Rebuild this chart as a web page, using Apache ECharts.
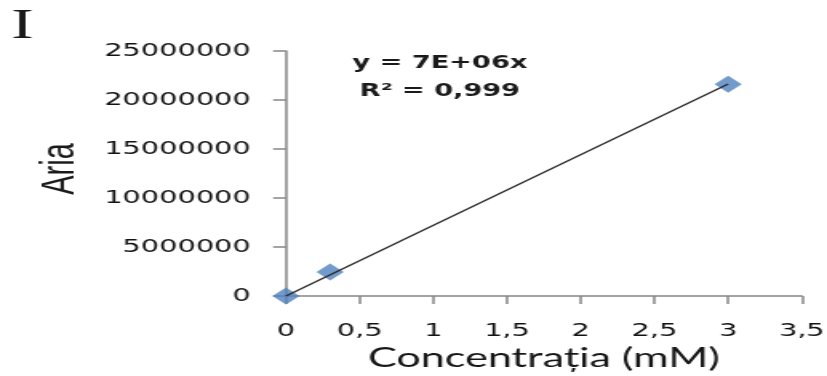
<!DOCTYPE html>
<html>
<head>
<meta charset="utf-8">
<script src="https://cdn.jsdelivr.net/npm/echarts@6/dist/echarts.min.js"></script>
<style>
  html, body { margin: 0; padding: 0; background: #fff; overflow: hidden; }
  #wrap { width: 827px; height: 376px; overflow: hidden; position: relative; }
  /* the chart is drawn narrow and widened horizontally */
  #chart { width: 517px; height: 376px; transform: scaleX(1.5996); transform-origin: 0 0; }
</style>
</head>
<body>
<div id="wrap"><div id="chart"></div></div>
<script>
// Calibration standards: concentration (mM) and peak area
const concentration = [0, 0.3, 3.0];
const area = [0, 2450000, 21600000];

const xTicks = { min: 0, max: 3.5, step: 0.5 };
const yTicks = { min: 0, max: 25000000, step: 5000000 };

const equationLines = ['y = 7E+06x', 'R² = 0,999'];
const panelLetter = 'I';
const xTitle = 'Concentrația (mM)';
const yTitle = 'Aria';

// Linear trendline forced through the origin (least squares)
let sxy = 0, sxx = 0;
concentration.forEach((x, i) => { sxy += x * area[i]; sxx += x * x; });
const slope = sxy / sxx;
const xEnd = Math.max(...concentration);
const trend = [[0, 0], [xEnd, slope * xEnd]];

const points = concentration.map((x, i) => [x, area[i]]);

const axisGray = '#868686';
const labelFont = { fontFamily: 'DejaVu Sans', fontSize: 18, color: '#121212' };

const chart = echarts.init(document.getElementById('chart'), null, { renderer: 'canvas' });
chart.setOption({
  animation: false,
  backgroundColor: '#fff',
  grid: { left: 178.75, top: 51, width: 322.5, height: 245, outerBoundsMode: 'none', containLabel: false },
  xAxis: {
    type: 'value',
    min: xTicks.min, max: xTicks.max, interval: xTicks.step,
    name: xTitle,
    nameLocation: 'middle',
    nameGap: 45,
    nameTextStyle: { fontFamily: 'Lato', fontSize: 27, color: '#161616' },
    splitLine: { show: false },
    axisLine: { show: true, lineStyle: { color: axisGray, width: 1.5 } },
    axisTick: { show: true, length: 8, lineStyle: { color: axisGray, width: 1.5 } },
    axisLabel: Object.assign({ margin: 26, formatter: v => String(v).replace('.', ',') }, labelFont)
  },
  yAxis: {
    type: 'value',
    min: yTicks.min, max: yTicks.max, interval: yTicks.step,
    splitLine: { show: false },
    axisLine: { show: true, lineStyle: { color: axisGray, width: 1.5 } },
    axisTick: { show: true, length: 8, lineStyle: { color: axisGray, width: 1.5 } },
    axisLabel: Object.assign({ margin: 22, formatter: v => String(v) }, labelFont)
  },
  graphic: [
    {
      type: 'text', left: 7, top: 6,
      style: { text: panelLetter, fontFamily: 'Liberation Serif', fontSize: 42, fill: '#1a1a1a' }
    },
    {
      type: 'text', x: 37.5, y: 169, rotation: Math.PI / 2,
      style: { text: yTitle, fontFamily: 'Liberation Sans', fontSize: 29, fill: '#1a1a1a',
               align: 'center', verticalAlign: 'middle' }
    },
    {
      type: 'text', x: 275, y: 78,
      style: { text: equationLines.join('\n'), fontFamily: 'DejaVu Sans', fontWeight: 'bold',
               fontSize: 17, lineHeight: 28, fill: '#1a1a1a', align: 'center', verticalAlign: 'middle' }
    }
  ],
  series: [
    {
      type: 'line',
      data: trend,
      showSymbol: false,
      symbol: 'none',
      lineStyle: { color: '#2a2a2a', width: 1.4 },
      z: 3
    },
    {
      type: 'scatter',
      data: points,
      symbol: 'diamond',
      symbolSize: 17,
      itemStyle: { color: '#4F81BD' },
      z: 2
    }
  ]
});
</script>
</body>
</html>
